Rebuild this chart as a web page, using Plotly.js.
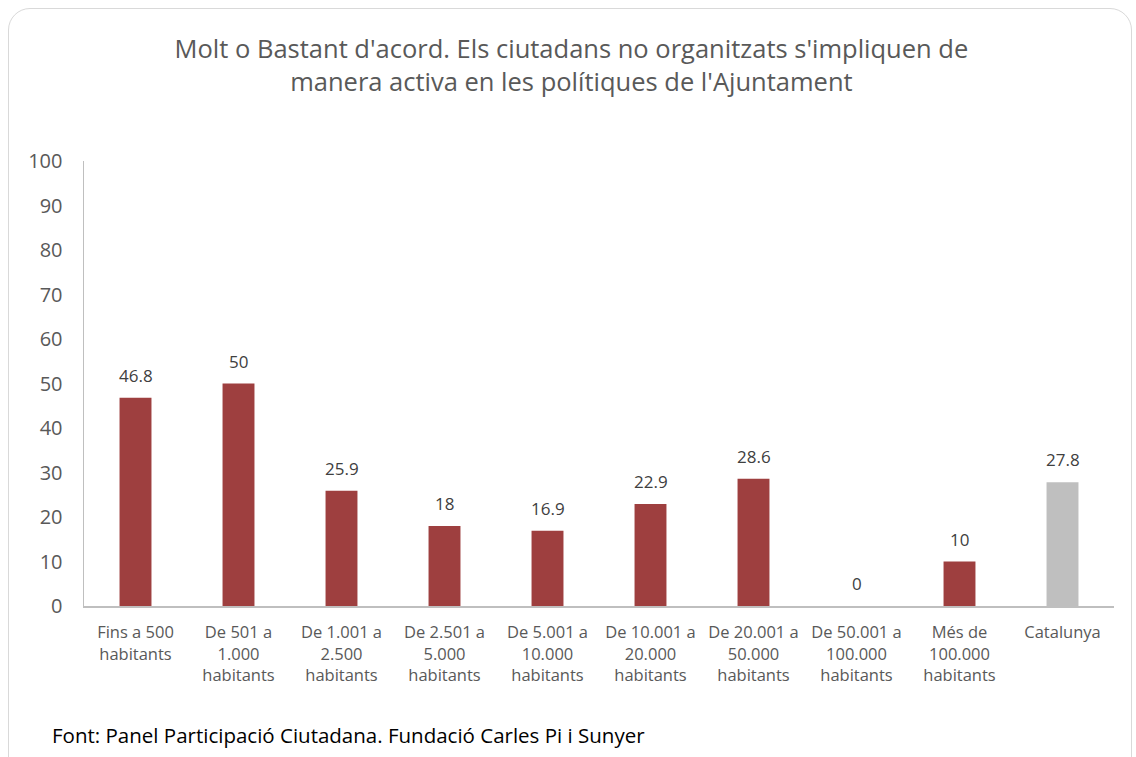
<!DOCTYPE html>
<html>
<head>
<meta charset="utf-8">
<script src="https://cdn.plot.ly/plotly-3.0.1.min.js"></script>
<style>
html,body{margin:0;padding:0;background:#fff;}
#wrap{position:relative;width:1136px;height:757px;overflow:hidden;}
#chart{position:absolute;left:0;top:0;width:1136px;height:757px;}
#frame{position:absolute;left:8px;top:8px;width:1122px;height:770px;border:1.5px solid #d9d9d9;border-radius:22px;pointer-events:none;}
</style>
</head>
<body>
<div id="wrap"><div id="chart"></div><div id="frame"></div></div>
<script>
const categories = [
  "Fins a 500<br>habitants",
  "De 501 a<br>1.000<br>habitants",
  "De 1.001 a<br>2.500<br>habitants",
  "De 2.501 a<br>5.000<br>habitants",
  "De 5.001 a<br>10.000<br>habitants",
  "De 10.001 a<br>20.000<br>habitants",
  "De 20.001 a<br>50.000<br>habitants",
  "De 50.001 a<br>100.000<br>habitants",
  "Més de<br>100.000<br>habitants",
  "Catalunya"
];
const values = [46.8, 50, 25.9, 18, 16.9, 22.9, 28.6, 0, 10, 27.8];
const valueLabels = ["46.8", "50", "25.9", "18", "16.9", "22.9", "28.6", "0", "10", "27.8"];
const barColors = ["#9e3f3f","#9e3f3f","#9e3f3f","#9e3f3f","#9e3f3f","#9e3f3f","#9e3f3f","#9e3f3f","#9e3f3f","#bfbfbf"];
const titleText = "Molt o Bastant d'acord. Els ciutadans no organitzats s'impliquen de<br>manera activa en les polítiques de l'Ajuntament";
const sourceText = "Font: Panel Participació Ciutadana. Fundació Carles Pi i Sunyer";

const font = "Open Sans, Noto Sans, sans-serif";

const annotations = categories.map((c, i) => ({
  x: c, y: values[i], xref: 'x', yref: 'y',
  text: valueLabels[i], showarrow: false,
  yanchor: 'bottom', yshift: 9,
  font: {family: font, size: 17, color: '#404040'}
}));
annotations.push({
  xref: 'paper', yref: 'paper', x: -0.033, y: -0.29, xanchor: 'left', yanchor: 'middle',
  text: sourceText, showarrow: false,
  font: {family: font, size: 20.5, color: '#000000'}
});

const data = [{
  type: 'bar', x: categories, y: values,
  marker: {color: barColors},
  width: 0.31, hoverinfo: 'none'
}];

const layout = {
  width: 1136, height: 757,
  margin: {l: 84, r: 22, t: 161, b: 151},
  paper_bgcolor: 'rgba(0,0,0,0)', plot_bgcolor: '#fff',
  showlegend: false,
  title: {text: titleText, x: 0.503, xanchor: 'center', y: 0.923, yanchor: 'middle',
          font: {family: font, size: 25.5, color: '#595959'}},
  xaxis: {type: 'category', showline: true, linecolor: '#bfbfbf', linewidth: 1.5,
          ticks: '', showgrid: false, zeroline: false, ticklabelstandoff: 11,
          tickfont: {family: font, size: 16.5, color: '#595959'}, tickangle: 0},
  yaxis: {range: [0, 100], dtick: 10, showline: true, linecolor: '#bfbfbf', linewidth: 1.5,
          showgrid: false, zeroline: false, ticks: '', ticklabelstandoff: 16,
          tickfont: {family: font, size: 20, color: '#595959'}},
  annotations: annotations
};

Plotly.newPlot('chart', data, layout, {displayModeBar: false, staticPlot: true});
</script>
</body>
</html>
